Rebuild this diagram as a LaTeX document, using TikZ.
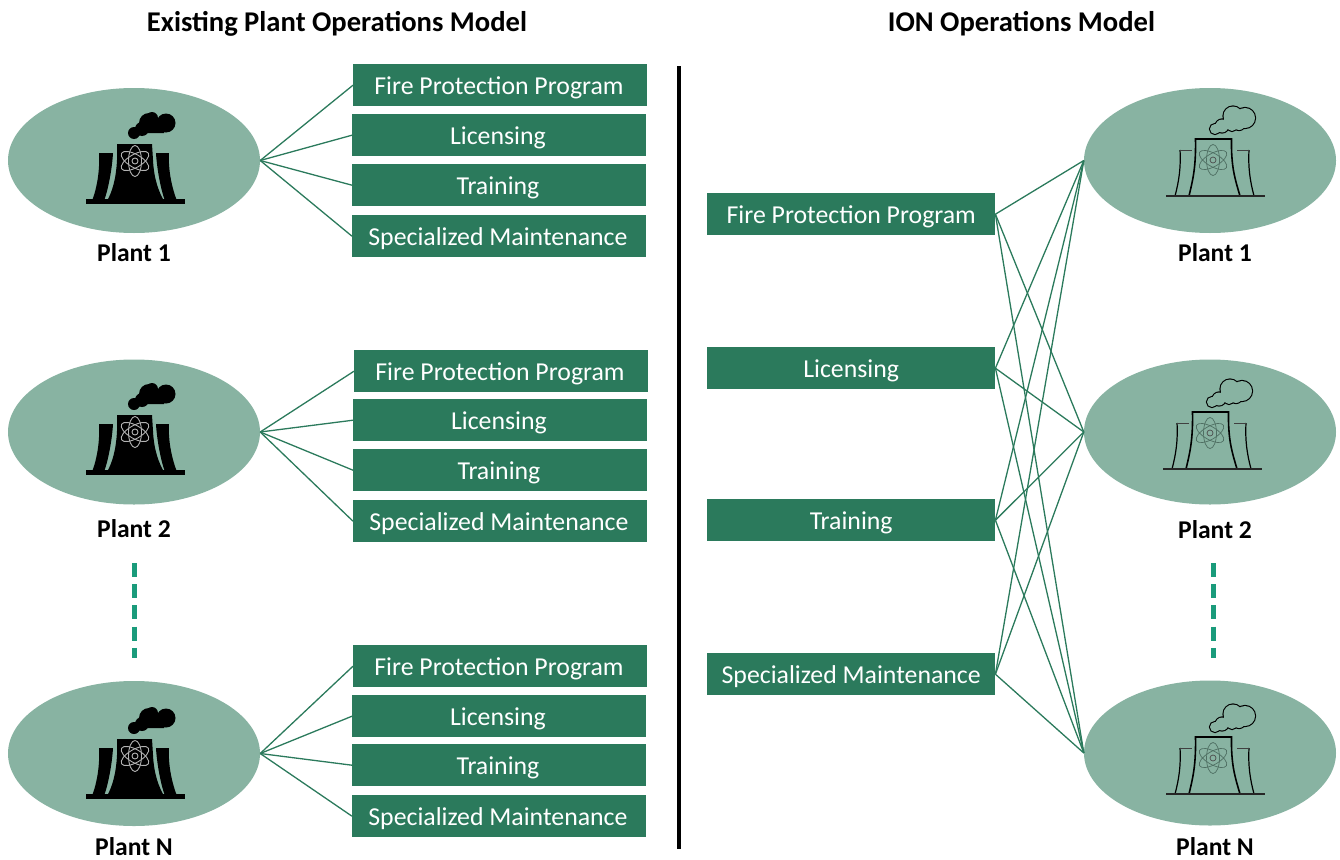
\documentclass[tikz,border=0pt]{standalone}
\usepackage{fontspec}
\setmainfont{Carlito}
\usetikzlibrary{shapes.geometric}
\definecolor{boxgreen}{HTML}{2B7A5C}
\definecolor{oval}{HTML}{88B3A2}
\definecolor{dashgreen}{HTML}{1A9B7B}
\definecolor{atomgray}{HTML}{4F6F63}
\tikzset{
  box/.style={draw=none,fill=boxgreen,text=white,minimum height=42pt,inner sep=0pt,text height=19.5pt,text depth=1.5pt,font=\fontsize{25.8}{26}\selectfont,anchor=north west},
  lbox/.style={box,minimum width=294pt,execute at begin node={\hskip-2.5pt}},
  rbox/.style={box,minimum width=288pt},
  plant/.style={ellipse,fill=oval,draw=none,minimum width=252pt,minimum height=145pt,inner sep=0pt},
  link/.style={draw=boxgreen,line width=1.3pt},
  head/.style={font=\bfseries\fontsize{28.6}{28}\selectfont,inner sep=0pt},
  plabel/.style={font=\bfseries\fontsize{25.6}{26}\selectfont,inner sep=0pt},
  vdash/.style={draw=dashgreen,line width=5pt,dash pattern=on 14pt off 7.2pt},
  solidicon/.pic={
    \fill[black] (0,-27) circle (6) (8,-31) circle (7) (15,-37) circle (10) (18,-42) circle (6) (32,-37) circle (9.5) (22,-32) circle (5) (8,-27) rectangle (30,-30);
    \fill[black] (-17,-16)--(18,-16)--(19,0) .. controls (20,20) and (25,32) .. (30,41)--(-27,41) .. controls (-22,32) and (-18,20) .. (-17,0)--cycle;
    \fill[black] (-35,-7)--(-21,-7) .. controls (-22,10) and (-26,30) .. (-30,41)--(-42,41) .. controls (-37,28) and (-34,10) .. (-35,-7)--cycle;
    \fill[black] (22,-7)--(35,-7) .. controls (34,10) and (38,28) .. (43,41)--(31,41) .. controls (27,30) and (23,10) .. (22,-7)--cycle;
    \fill[black] (-48,39) rectangle (51,44);
    \begin{scope}[shift={(1,1)},draw=white!70!black,line width=0.9pt]
      \draw[rotate=0] (0,0) ellipse (6.5 and 15.5);
      \draw[rotate=60] (0,0) ellipse (6.5 and 15.5);
      \draw[rotate=-60] (0,0) ellipse (6.5 and 15.5);
      \draw (0,0) circle (3);
    \end{scope}
  },
  outlineicon/.pic={
    \begin{scope}[shift={(-1,0)}]
    \draw[black,line width=2.2pt,fill=black] (3,-30) circle (5) (10,-33) circle (6.5) (20,-33) circle (5) (21,-43) circle (9.5) (33,-41) circle (10) (27,-35) circle (6);
    \fill[oval] (3,-30) circle (5) (10,-33) circle (6.5) (20,-33) circle (5) (21,-43) circle (9.5) (33,-41) circle (10) (27,-35) circle (6);
    \end{scope}
    \draw[black,line width=1.6pt,line cap=round] (-24,37) .. controls (-20,20) and (-17,8) .. (-17.5,-20)--(18.5,-20) .. controls (18,8) and (22,20) .. (27,37);
    \draw[black,line width=1.2pt] (-38,37) .. controls (-34,22) and (-32,8) .. (-33,-9);
    \draw[black,line width=1.2pt] (41,37) .. controls (37,22) and (35,8) .. (36,-9);
    \draw[black!75,line width=1pt] (-33,-9)--(-21,-9) (24,-9)--(36,-9);
    \draw[black!85,line width=1.6pt] (-47,37)--(52,37);
    \begin{scope}[shift={(0,1)},draw=atomgray,line width=0.7pt]
      \draw[rotate=0] (0,0) ellipse (6.5 and 15.5);
      \draw[rotate=60] (0,0) ellipse (6.5 and 15.5);
      \draw[rotate=-60] (0,0) ellipse (6.5 and 15.5);
      \draw[draw=black!70] (0,0) circle (3);
    \end{scope}
  }
}
\begin{document}
\begin{tikzpicture}[x=1pt,y=-1pt]
\useasboundingbox (0,0) rectangle (1340,859);
\node[head] (t1) at (337,24) {Existing Plant Operations Model};
\node[head] (t2) at (1021.5,24) {ION Operations Model};
\coordinate (ct) at (679,66); \coordinate (cb) at (679,849);
\draw[line width=4pt,black] (ct)--(cb);
% plants
\node[plant] (L1) at (134,160.5) {};
\node[plant] (L2) at (134,432) {};
\node[plant] (LN) at (134,753.5) {};
\node[plant] (R1) at (1210,160.5) {};
\node[plant] (R2) at (1210,432) {};
\node[plant] (RN) at (1210,753) {};
\pic at (134,160) {solidicon};
\pic at (134,431) {solidicon};
\pic at (134,755) {solidicon};
\pic at (1213,159) {outlineicon};
\pic at (1210,432) {outlineicon};
\pic at (1213,757) {outlineicon};
\node[plabel] (pl1) at (134,252.5) {Plant 1};
\node[plabel] (pl2) at (134,528.5) {Plant 2};
\node[plabel] (plN) at (134,847) {Plant N};
\node[plabel] (pr1) at (1215,252.5) {Plant 1};
\node[plabel] (pr2) at (1215,529.5) {Plant 2};
\node[plabel] (prN) at (1215,847) {Plant N};
% left boxes
\node[lbox] (a1) at (353,64) {Fire Protection Program};
\node[lbox] (a2) at (352,114) {Licensing};
\node[lbox] (a3) at (352,164) {Training};
\node[lbox] (a4) at (352,215) {Specialized Maintenance};
\node[lbox] (b1) at (354,350) {Fire Protection Program};
\node[lbox] (b2) at (353,399) {Licensing};
\node[lbox] (b3) at (353,449) {Training};
\node[lbox] (b4) at (353,500) {Specialized Maintenance};
\node[lbox] (c1) at (353,645) {Fire Protection Program};
\node[lbox] (c2) at (352,695) {Licensing};
\node[lbox] (c3) at (352,744) {Training};
\node[lbox] (c4) at (352,795) {Specialized Maintenance};
% right boxes
\node[rbox] (d1) at (707,193) {Fire Protection Program};
\node[rbox] (d2) at (707,347) {Licensing};
\node[rbox] (d3) at (707,499) {Training};
\node[rbox] (d4) at (707,653) {Specialized Maintenance};
% links
\foreach \i in {1,2,3,4}{
  \draw[link] (L1.east)--(a\i.west);
  \draw[link] (L2.east)--(b\i.west);
  \draw[link] (LN.east)--(c\i.west);
  \draw[link] (d\i.east)--(R1.west);
  \draw[link] (d\i.east)--(R2.west);
  \draw[link] (d\i.east)--(RN.west);
}
% dashes
\coordinate (dl1) at (134,563); \coordinate (dl2) at (134,658);
\coordinate (dr1) at (1213,563); \coordinate (dr2) at (1213,658);
\draw[vdash] (dl1)--(dl2);
\draw[vdash] (dr1)--(dr2);
\end{tikzpicture}
\end{document}
